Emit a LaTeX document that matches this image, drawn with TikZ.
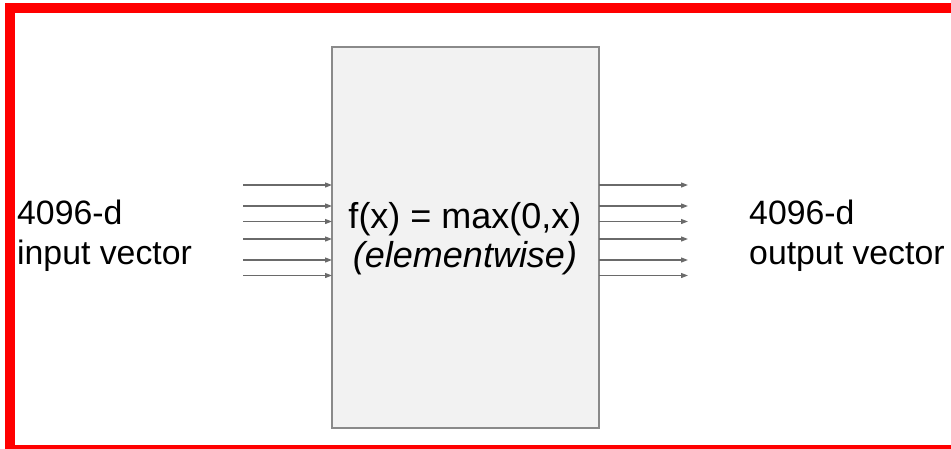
\documentclass[tikz,border=0pt]{standalone}
\usepackage{fontspec}
\setmainfont{Liberation Sans}
\usetikzlibrary{arrows.meta}
\definecolor{boxfill}{HTML}{F2F2F2}
\definecolor{boxline}{HTML}{8A8A8A}
\definecolor{arrowgray}{HTML}{6A6A6A}
\tikzset{
  lbl/.style={inner sep=0pt, font=\fontsize{33.8}{40}\selectfont, anchor=base west},
  ctr/.style={inner sep=0pt, font=\fontsize{36}{40}\selectfont, anchor=base},
  vec/.style={draw=arrowgray, line width=1.2pt, -{Triangle[length=7pt,width=5pt]}},
  frame/.style={draw=red, line width=10pt},
  fbox/.style={draw=boxline, fill=boxfill, line width=1.3pt}
}
\begin{document}
\begin{tikzpicture}[x=1pt,y=-1pt]
\useasboundingbox (0,0) rectangle (951,448);
\clip (0,0) rectangle (951,448);
\draw[frame] (10,8) rectangle (965,450);
\draw[fbox] (332,47) rectangle (599,428);
\foreach \i/\y in {1/185,2/206,3/221.5,4/239,5/260,6/275.5}{
  \coordinate (in\i) at (243,\y);
  \coordinate (inend\i) at (332,\y);
  \coordinate (out\i) at (599,\y);
  \coordinate (outend\i) at (688,\y);
  \draw[vec] (in\i) -- (inend\i);
  \draw[vec] (out\i) -- (outend\i);
}
\node[lbl] (inA) at (17,224) {4096-d};
\node[lbl] (inB) at (17,264) {input vector};
\node[lbl] (outA) at (749,224) {4096-d};
\node[lbl] (outB) at (749,264) {output vector};
\node[ctr] (f) at (465,228) {f(x) = max(0,x)};
\node[ctr] (ew) at (465,267) {\itshape (elementwise)};
\end{tikzpicture}
\end{document}
